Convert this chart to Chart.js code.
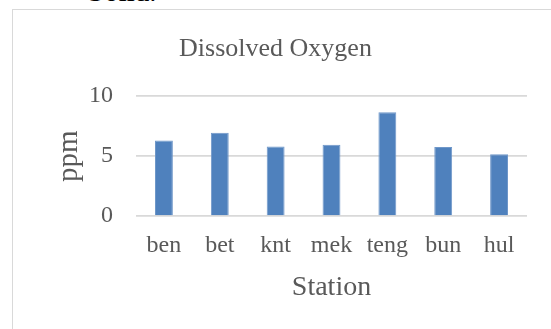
<!DOCTYPE html>
<html>
<head>
<meta charset="utf-8">
<script src="https://cdn.jsdelivr.net/npm/chart.js@4"></script>
<style>
  body { margin: 0; background: #fff; overflow: hidden; }
  #wrap { position: relative; width: 551px; height: 329px; overflow: hidden; }
  #prev { position: absolute; left: 88px; top: -25px; font: 29px "Liberation Serif", serif; color: #000; }
  #box { position: absolute; left: 12px; top: 9px; width: 620px; height: 400px; border: 1px solid #d9d9d9; }
  canvas { position: absolute; left: 0; top: 0; }
</style>
</head>
<body>
<div id="wrap">
  <div id="prev">Solid.</div>
  <div id="box"></div>
  <canvas id="grafico" width="551" height="329"></canvas>
</div>
<script>
const estacoes = ['ben', 'bet', 'knt', 'mek', 'teng', 'bun', 'hul'];
const oxigenio = [6.3, 6.95, 5.8, 5.95, 8.65, 5.75, 5.15];
const ticksY = [0, 5, 10];

const fonte = 'Liberation Serif';
const cinza = '#595959';

const ctx = document.getElementById('grafico').getContext('2d');
new Chart(ctx, {
  type: 'bar',
  data: {
    labels: estacoes,
    datasets: [{
      label: 'Dissolved Oxygen',
      data: oxigenio,
      backgroundColor: '#4f81bd',
      borderColor: '#6f97c9',
      borderWidth: 1,
      categoryPercentage: 1,
      barPercentage: 0.32
    }]
  },
  options: {
    responsive: false,
    animation: false,
    layout: { padding: { left: 24, right: 24, top: 34, bottom: 0 } },
    plugins: {
      legend: { display: false },
      tooltip: { enabled: false },
      title: {
        display: true,
        text: 'Dissolved Oxygen',
        color: cinza,
        font: { family: fonte, size: 26, weight: 'normal' },
        padding: { top: 0, bottom: 31 }
      }
    },
    scales: {
      x: {
        afterFit: axis => { axis.height = 113; },
        grid: { display: false, drawTicks: false },
        border: { display: false },
        ticks: { color: cinza, font: { family: fonte, size: 24 }, padding: 15 },
        title: {
          display: true,
          text: 'Station',
          color: cinza,
          font: { family: fonte, size: 28 },
          padding: { top: 0, bottom: 25 }
        }
      },
      y: {
        min: 0,
        max: 10,
        afterBuildTicks: axis => { axis.ticks = ticksY.map(v => ({ value: v })); },
        afterFit: axis => { axis.width = 112; },
        grid: { color: '#d9d9d9', lineWidth: 1.7, drawTicks: false },
        border: { display: false },
        ticks: { color: cinza, font: { family: fonte, size: 24 }, padding: 23 },
        title: {
          display: true,
          text: 'ppm',
          color: cinza,
          font: { family: fonte, size: 29 },
          padding: { top: 28, bottom: 1 }
        }
      }
    }
  }
});
</script>
</body>
</html>
